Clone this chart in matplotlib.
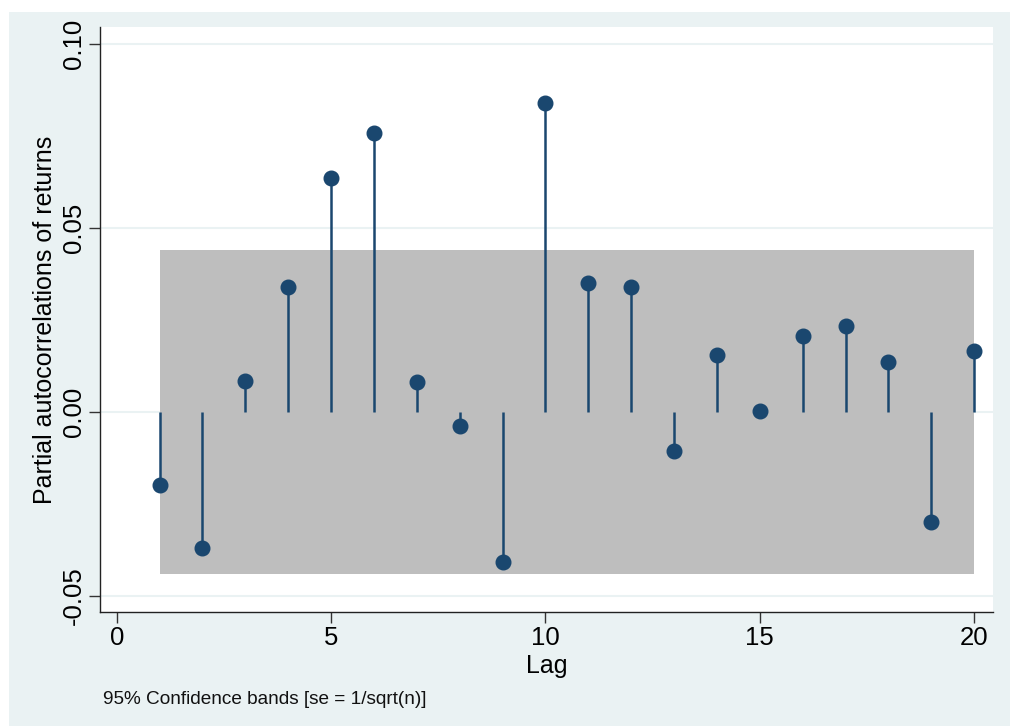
import numpy as np
import matplotlib
matplotlib.use("Agg")
import matplotlib.pyplot as plt
from matplotlib.patches import Rectangle

# partial autocorrelations
lags = [1, 2, 3, 4, 5, 6, 7, 8, 9, 10, 11, 12, 13, 14, 15, 16, 17, 18, 19, 20]
pacf = [-0.0199, -0.0370, 0.0084, 0.0340, 0.0635, 0.0757, 0.0082, -0.0038, -0.0409, 0.0838,
        0.0349, 0.0340, -0.0106, 0.0153, 0.0003, 0.0207, 0.0234, 0.0134, -0.0300, 0.0166]
band = 0.0440  # 95% confidence band, se = 1/sqrt(n)
xticks = [0, 5, 10, 15, 20]
yticks = [-0.05, 0.00, 0.05, 0.10]

navy = '#1a476f'
bg = '#eaf2f3'

plt.rcParams['font.family'] = ['Liberation Sans', 'DejaVu Sans']

fig = plt.figure(figsize=(10.10, 7.26), dpi=100)
fig.patch.set_facecolor('white')
# stata style outer graph region
fig.patches.append(Rectangle((9 / 1010, 0), 1 - 9 / 1010, 1 - 12 / 726, transform=fig.transFigure,
                             facecolor=bg, edgecolor='none', zorder=-10))

ax = fig.add_axes([100 / 1010, 1 - 612 / 726, 893 / 1010, 585 / 726])
ax.set_facecolor('white')

ax.fill_between([lags[0], lags[-1]], -band, band, color='#bebebe', linewidth=0, zorder=1)
for y in yticks:
    ax.axhline(y, color=bg, linewidth=1.5, zorder=0.5)

ax.vlines(lags, 0, pacf, color=navy, linewidth=1.8, zorder=2)
ax.plot(lags, pacf, 'o', color=navy, markersize=10.5, zorder=3)

ax.set_xlim(-0.39, 20.44)
ax.set_ylim(-0.0544, 0.1045)
ax.set_xticks(xticks)
ax.set_yticks(yticks)
ax.set_yticklabels(['-0.05', '0.00', '0.05', '0.10'], rotation=90, va='center')
ax.tick_params(axis='both', labelsize=18.5, length=8, width=1, color='#333333', pad=2)

for side in ['top', 'right']:
    ax.spines[side].set_visible(False)
for side in ['left', 'bottom']:
    ax.spines[side].set_color('#222222')
    ax.spines[side].set_linewidth(1)

ax.set_xlabel('Lag', fontsize=18, labelpad=3)
ax.set_ylabel('Partial autocorrelations of returns', fontsize=18, labelpad=4)

fig.text(103 / 1010, 1 - 700 / 726, '95% Confidence bands [se = 1/sqrt(n)]', fontsize=13.7,
         va='center', ha='left', color='#111111')

fig.savefig('out.png', dpi=100, facecolor=fig.get_facecolor())
